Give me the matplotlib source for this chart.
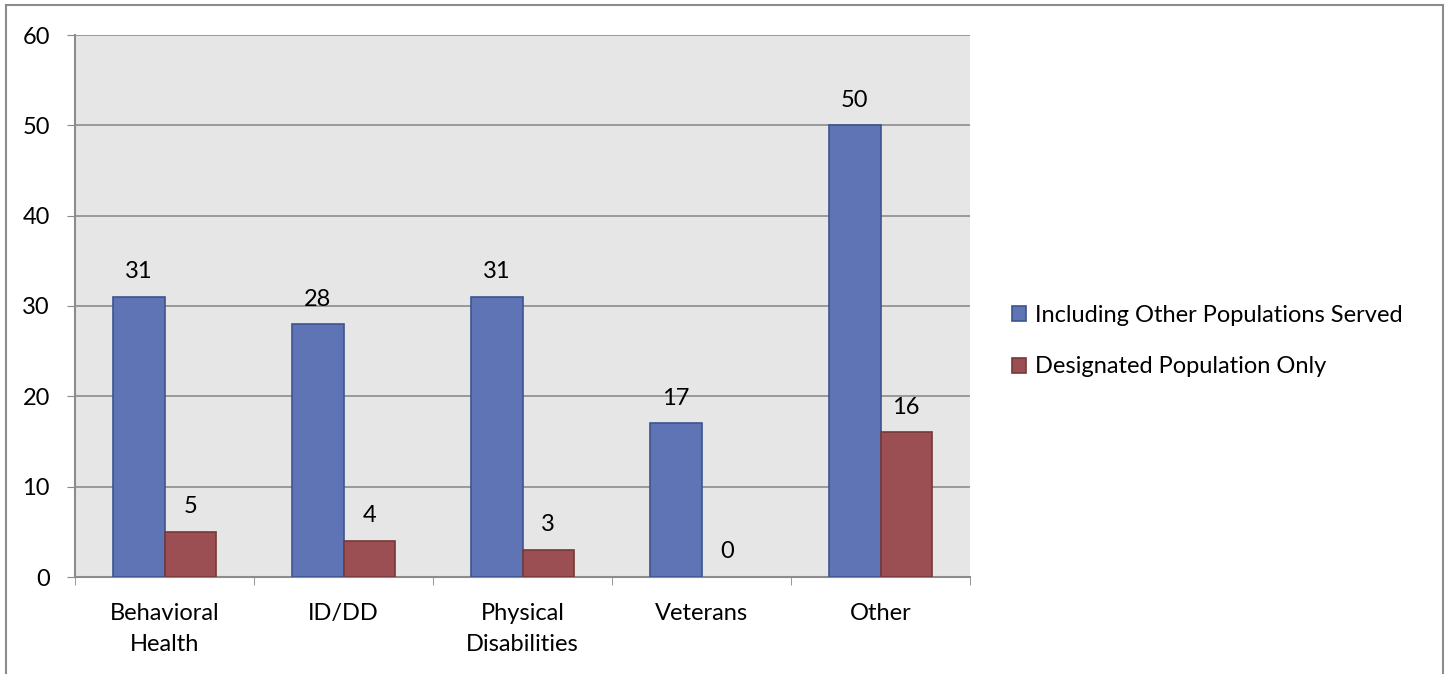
import matplotlib.pyplot as plt
from matplotlib.patches import Rectangle
import numpy as np

plt.rcParams['font.family'] = ['Lato', 'DejaVu Sans']

categories = ['Behavioral\nHealth', 'ID/DD', 'Physical\nDisabilities', 'Veterans', 'Other']
including_other = [31, 28, 31, 17, 50]
designated_only = [5, 4, 3, 0, 16]
series_names = ['Including Other Populations Served', 'Designated Population Only']

fig = plt.figure(figsize=(14.5, 6.74), dpi=100)
ax = fig.add_axes([75 / 1450, 1 - 577 / 674, 895 / 1450, 542 / 674])

x = np.arange(len(categories))
w = 0.286
b1 = ax.bar(x - w / 2, including_other, w, color='#5e74b5', edgecolor='#3d5391', linewidth=1.2,
            label=series_names[0], zorder=3)
b2 = ax.bar(x + w / 2, designated_only, w, color='#9c4f52', edgecolor='#76393b', linewidth=1.2,
            label=series_names[1], zorder=3)

for bars, vals in ((b1, including_other), (b2, designated_only)):
    for rect, v in zip(bars, vals):
        if v == 0:
            rect.set_linewidth(0)
        ax.annotate(str(v), (rect.get_x() + rect.get_width() / 2, v), xytext=(0, 18),
                    textcoords='offset points', ha='center', va='center', fontsize=17)

ax.set_facecolor('#e6e6e6')
ax.set_xlim(-0.5, len(categories) - 0.5)
ax.set_ylim(0, 60)
ax.set_yticks(range(0, 61, 10))
ax.tick_params(axis='y', labelsize=17, length=6, color='#888888', pad=12)
ax.set_xticks(x)
ax.set_xticklabels(categories, fontsize=17, linespacing=1.55)
ax.tick_params(axis='x', length=0, pad=19)
ax.set_xticks(np.arange(len(categories) + 1) - 0.5, minor=True)
ax.tick_params(axis='x', which='minor', length=6, color='#888888')
ax.grid(axis='y', color='#8c8c8c', linewidth=1.2, zorder=0)
for side in ('top', 'right'):
    ax.spines[side].set_visible(False)
for side in ('left', 'bottom'):
    ax.spines[side].set_color('#8c8c8c')
    ax.spines[side].set_linewidth(1.5)

fig.legend(handles=[b1, b2], loc='center left', bbox_to_anchor=(991 / 1450, 1 - 341 / 674),
           frameon=False, fontsize=17, handlelength=0.6, handleheight=0.6,
           handletextpad=0.35, labelspacing=1.3)

fig.patches.append(Rectangle((6 / 1450, -0.05), 1437 / 1450, 1.05 - 5 / 674,
                             transform=fig.transFigure, fill=False,
                             edgecolor='#8c8c8c', linewidth=1.5))

fig.savefig('out.png', dpi=100)
